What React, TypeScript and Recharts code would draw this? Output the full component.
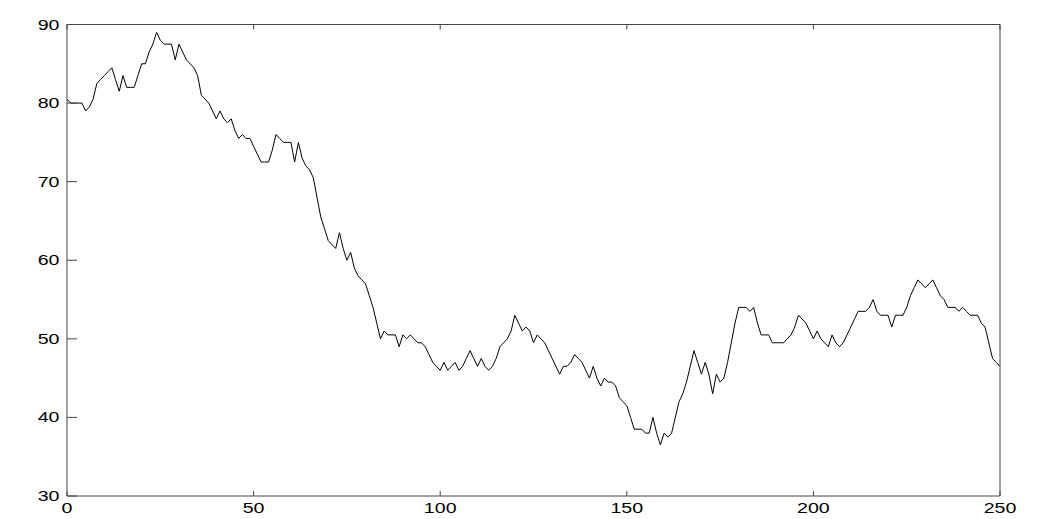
import React from "react";
import { LineChart, Line, XAxis, YAxis } from "recharts";

const values: number[] = [
  80.5, 80, 80, 80, 80, 79, 79.5, 80.5, 82.5, 83, 83.5, 84, 84.5, 83, 81.5, 83.5, 82, 82, 82, 83.5,
  85, 85, 86.5, 87.5, 89, 88, 87.5, 87.5, 87.5, 85.5, 87.5, 86.5, 85.5, 85, 84.5, 83.5, 81, 80.5, 80, 79,
  78, 79, 78, 77.5, 78, 76.5, 75.5, 76, 75.5, 75.5, 74.5, 73.5, 72.5, 72.5, 72.5, 74, 76, 75.5, 75, 75,
  75, 72.5, 75, 73, 72, 71.5, 70.5, 68, 65.5, 64, 62.5, 62, 61.5, 63.5, 61.5, 60, 61, 59, 58, 57.5,
  57, 55.5, 54, 52, 50, 51, 50.5, 50.5, 50.5, 49, 50.5, 50, 50.5, 50, 49.5, 49.5, 49, 48, 47, 46.5,
  46, 47, 46, 46.5, 47, 46, 46.5, 47.5, 48.5, 47.5, 46.5, 47.5, 46.5, 46, 46.5, 47.5, 49, 49.5, 50, 51,
  53, 52, 51, 51.5, 51, 49.5, 50.5, 50, 49.5, 48.5, 47.5, 46.5, 45.5, 46.5, 46.5, 47, 48, 47.5, 47, 46,
  45, 46.5, 45, 44, 45, 44.5, 44.5, 44, 42.5, 42, 41.5, 40, 38.5, 38.5, 38.5, 38, 38, 40, 38, 36.5,
  38, 37.5, 38, 40, 42, 43, 44.5, 46.5, 48.5, 47, 45.5, 47, 45.5, 43, 45.5, 44.5, 45, 47, 49.5, 52,
  54, 54, 54, 53.5, 54, 52, 50.5, 50.5, 50.5, 49.5, 49.5, 49.5, 49.5, 50, 50.5, 51.5, 53, 52.5, 52, 51,
  50, 51, 50, 49.5, 49, 50.5, 49.5, 49, 49.5, 50.5, 51.5, 52.5, 53.5, 53.5, 53.5, 54, 55, 53.5, 53, 53,
  53, 51.5, 53, 53, 53, 54, 55.5, 56.5, 57.5, 57, 56.5, 57, 57.5, 56.5, 55.5, 55, 54, 54, 54, 53.5,
  54, 53.5, 53, 53, 53, 52, 51.5, 49.5, 47.5, 47, 46.5,
];

const xTicks: number[] = [0, 50, 100, 150, 200, 250];
const yTicks: number[] = [30, 40, 50, 60, 70, 80, 90];

const data = values.map((v, i) => ({ t: i, v }));

const axisColor = "#444";
const fontFamily = "'Liberation Sans', Arial, sans-serif";
const X_TICK_LEN = 5;
const Y_TICK_LEN = 10;

const label = (text: string | number, tx: number, ty: number, anchor: "end" | "middle") => (
  <text
    x={0}
    y={0}
    textAnchor={anchor}
    fontFamily={fontFamily}
    fontSize={14}
    fill="#000"
    transform={`translate(${tx},${ty}) scale(1.4,1)`}
  >
    {text}
  </text>
);

const BottomTick = (props: any) => {
  const { x, y, payload } = props;
  return (
    <g>
      <line x1={x} y1={y} x2={x} y2={y - X_TICK_LEN} stroke={axisColor} strokeWidth={1} />
      {label(payload.value, x, y + 16.5, "middle")}
    </g>
  );
};

const TopTick = (props: any) => {
  const { x, y } = props;
  return <line x1={x} y1={y} x2={x} y2={y + X_TICK_LEN} stroke={axisColor} strokeWidth={1} />;
};

const LeftTick = (props: any) => {
  const { x, y, payload } = props;
  return (
    <g>
      <line x1={x} y1={y} x2={x + Y_TICK_LEN} y2={y} stroke={axisColor} strokeWidth={1} />
      {label(payload.value, x - 7.5, y + 5, "end")}
    </g>
  );
};

const RightTick = (props: any) => {
  const { x, y } = props;
  return <line x1={x} y1={y} x2={x - Y_TICK_LEN} y2={y} stroke={axisColor} strokeWidth={1} />;
};

export default function App() {
  return (
    <div style={{ position: "absolute", left: 0, top: 0, width: 1038, height: 519, background: "#fff" }}>
      <LineChart
        width={1038}
        height={519}
        data={data}
        margin={{ top: 23.5, right: 37, bottom: 0, left: 7 }}
      >
        <XAxis
          xAxisId="b"
          dataKey="t"
          type="number"
          domain={[0, 250]}
          ticks={xTicks}
          orientation="bottom"
          height={23}
          tickSize={0}
          tickMargin={0}
          tickLine={false}
          stroke={axisColor}
          tick={<BottomTick />}
          interval={0}
        />
        <XAxis
          xAxisId="t"
          dataKey="t"
          type="number"
          domain={[0, 250]}
          ticks={xTicks}
          orientation="top"
          height={1}
          tickSize={0}
          tickMargin={0}
          tickLine={false}
          stroke={axisColor}
          tick={<TopTick />}
          interval={0}
        />
        <YAxis
          yAxisId="l"
          type="number"
          domain={[30, 90]}
          ticks={yTicks}
          orientation="left"
          width={60}
          tickSize={0}
          tickMargin={0}
          tickLine={false}
          stroke={axisColor}
          tick={<LeftTick />}
          interval={0}
        />
        <YAxis
          yAxisId="r"
          type="number"
          domain={[30, 90]}
          ticks={yTicks}
          orientation="right"
          width={1}
          tickSize={0}
          tickMargin={0}
          tickLine={false}
          stroke={axisColor}
          tick={<RightTick />}
          interval={0}
        />
        <Line
          xAxisId="b"
          yAxisId="l"
          dataKey="v"
          type="linear"
          stroke="#000"
          strokeWidth={1}
          dot={false}
          isAnimationActive={false}
        />
      </LineChart>
    </div>
  );
}
